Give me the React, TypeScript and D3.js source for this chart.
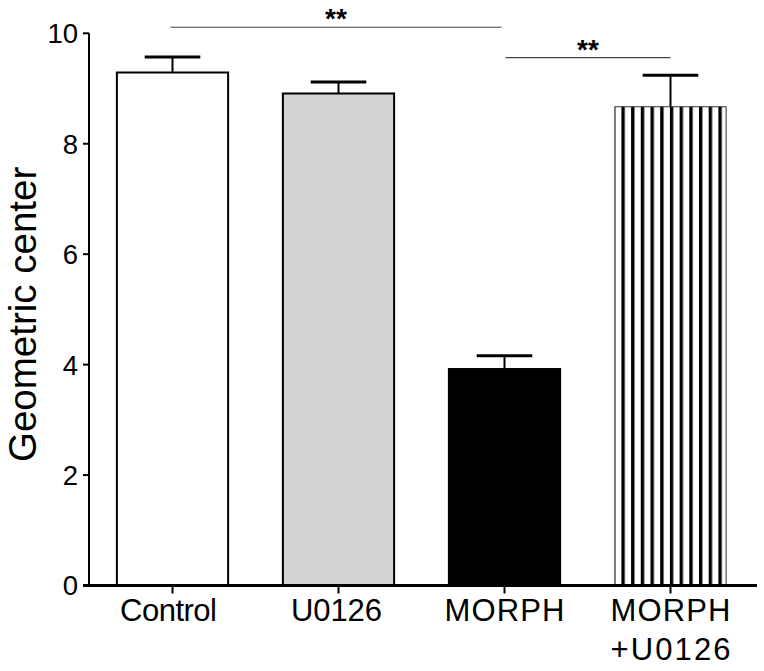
import React from "react";
import * as d3 from "d3";

const categories = ["Control", "U0126", "MORPH", "MORPH+U0126"];
const labelLines = [["Control"], ["U0126"], ["MORPH"], ["MORPH", "+U0126"]];
const labelWidths = [[97], [91], [120], [120, 120]];
const means = [9.29, 8.91, 3.92, 8.67];
const sems = [0.28, 0.21, 0.24, 0.57];
const fills = ["#ffffff", "#d3d3d3", "#000000", "url(#stripes)"];
const yTicks = [0, 2, 4, 6, 8, 10];
const sigPairs: [number, number, string][] = [
  [0, 2, "**"],
  [2, 3, "**"],
];
const sigLevels = [10.11, 9.56];

export default function App() {
  const W = 764;
  const H = 671;
  const y = d3.scaleLinear().domain([0, 10]).range([585.5, 33.3]);
  const x = d3
    .scaleBand<string>()
    .domain(categories)
    .range([89.5, 753.5])
    .paddingInner(0.33)
    .paddingOuter(0.165);
  const bw = x.bandwidth();
  const cx = (i: number) => (x(categories[i]) as number) + bw / 2;
  const font = "'Liberation Sans', Arial, Helvetica, sans-serif";
  const stripeX = (x(categories[3]) as number) + 6.5;

  return (
    <svg
      width={W}
      height={H}
      style={{ position: "absolute", left: 0, top: 0, background: "#fff" }}
      fontFamily={font}
    >
      <defs>
        <pattern
          id="stripes"
          patternUnits="userSpaceOnUse"
          x={stripeX}
          y={0}
          width={9.7}
          height={10}
        >
          <rect x={0} y={0} width={9.7} height={10} fill="#fff" />
          <rect x={0} y={0} width={3.4} height={10} fill="#000" />
        </pattern>
      </defs>
      <rect x={0} y={0} width={W} height={H} fill="#fff" />

      {/* bars */}
      {categories.map((c, i) => {
        const x0 = x(c) as number;
        const top = y(means[i]);
        return (
          <g key={c}>
            <rect
              x={x0}
              y={top}
              width={bw}
              height={y(0) - top}
              fill={fills[i]}
              stroke={i === 3 ? "#333" : "#000"}
              strokeWidth={i === 3 ? 1 : 2}
            />
            <line
              x1={cx(i)}
              x2={cx(i)}
              y1={top}
              y2={y(means[i] + sems[i])}
              stroke="#000"
              strokeWidth={2}
            />
            <line
              x1={cx(i) - bw / 4}
              x2={cx(i) + bw / 4}
              y1={y(means[i] + sems[i])}
              y2={y(means[i] + sems[i])}
              stroke="#000"
              strokeWidth={3}
            />
          </g>
        );
      })}

      {/* y axis */}
      <line x1={89} x2={89} y1={y(10)} y2={y(0)} stroke="#000" strokeWidth={2} />
      {yTicks.map((t) => (
        <g key={t}>
          <line x1={83} x2={89} y1={y(t)} y2={y(t)} stroke="#000" strokeWidth={2} />
          <text
            x={78}
            y={y(t)}
            dy="0.36em"
            textAnchor="end"
            fontSize={27.5}
            fill="#000"
          >
            {t}
          </text>
        </g>
      ))}
      <text
        transform={`translate(36,${(y(0) + y(10)) / 2 + 5}) rotate(-90)`}
        textAnchor="middle"
        fontSize={38.5}
        fill="#000"
      >
        Geometric center
      </text>

      {/* x axis */}
      <line x1={83} x2={757} y1={y(0)} y2={y(0)} stroke="#000" strokeWidth={3} />
      {categories.map((c, i) => (
        <g key={c + "t"}>
          <line
            x1={cx(i)}
            x2={cx(i)}
            y1={y(0)}
            y2={y(0) + 8}
            stroke="#000"
            strokeWidth={2}
          />
          {labelLines[i].map((ln, j) => (
            <text
              key={j}
              x={cx(i) - (i === 0 ? 4 : i === 1 ? 2 : 0)}
              y={621 + j * 39}
              textAnchor="middle"
              fontSize={31}
              fill="#000"
              textLength={labelWidths[i][j]}
              lengthAdjust="spacing"
            >
              {ln}
            </text>
          ))}
        </g>
      ))}

      {/* significance */}
      {sigPairs.map(([a, b, s], k) => {
        const ly = y(sigLevels[k]);
        const x1 = cx(a) - (k === 0 ? 2 : -1);
        const x2 = cx(b) - (k === 0 ? 3 : 0);
        return (
          <g key={k}>
            <line x1={x1} x2={x2} y1={ly} y2={ly} stroke="#444" strokeWidth={1.2} />
            <text
              x={(x1 + x2) / 2}
              y={ly + 1}
              textAnchor="middle"
              fontSize={28}
              fontWeight="bold"
              fill="#000"
            >
              {s}
            </text>
          </g>
        );
      })}
    </svg>
  );
}
